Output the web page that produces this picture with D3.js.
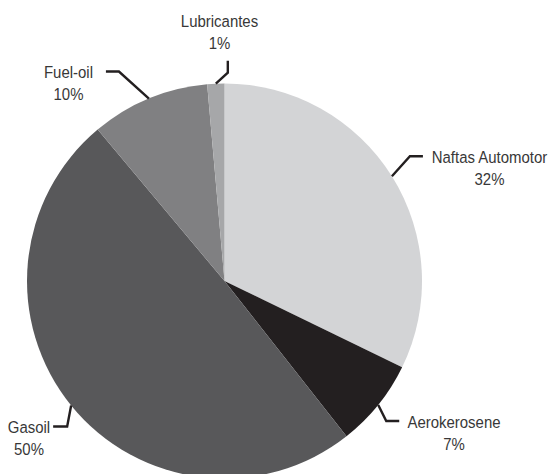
<!DOCTYPE html>
<html>
<head>
<meta charset="utf-8">
<script src="https://cdn.jsdelivr.net/npm/d3@7"></script>
<style>
  html, body { margin: 0; padding: 0; background: #fff; }
  svg { display: block; }
  text { font-family: "Liberation Sans", Arial, sans-serif; font-size: 17px; fill: #383838; }
</style>
</head>
<body>
<svg id="chart" width="550" height="474"></svg>
<script>
// ---- data ----
const categories = ["Naftas Automotor", "Aerokerosene", "Gasoil", "Fuel-oil", "Lubricantes"];
const values = [32.2, 7.2, 49.5, 9.7, 1.4];
const pctLabels = ["32%", "7%", "50%", "10%", "1%"];
const colors = ["#d3d4d6", "#231f20", "#58585a", "#808082", "#a6a7a9"];

// ---- layout ----
const cx = 224.5, cy = 281, R = 197.5;
const textScaleX = 0.88;
// leader geometry relative to slice edge point: elbow offset, then end offset from elbow; text centre & baseline
const leaderLayout = [
  { elbow: [18, -20], end: [13, 0], text: [489.5, 163] },
  { elbow: [8, 16], end: [13, 0], text: [454, 428] },
  { elbow: [-4, 21], end: [-14, 0], text: [29, 433] },
  { elbow: [-30, -27], end: [-13, 0], text: [68.5, 78] },
  { elbow: [12, -11], end: [0, -12], text: [219.5, 27] }
];

const svg = d3.select("#chart");
const g = svg.append("g").attr("transform", `translate(${cx},${cy})`);

const pie = d3.pie().sort(null).value(d => d.value).startAngle(0).endAngle(2 * Math.PI);
const data = categories.map((c, i) => ({ name: c, value: values[i], pct: pctLabels[i], color: colors[i], lay: leaderLayout[i] }));
const arcs = pie(data);

const arc = d3.arc().innerRadius(0).outerRadius(R);
const edgeArc = d3.arc().innerRadius(R).outerRadius(R);

g.selectAll("path.slice")
  .data(arcs)
  .join("path")
  .attr("class", "slice")
  .attr("d", arc)
  .attr("fill", d => d.data.color);

// leaders
g.selectAll("path.leader")
  .data(arcs)
  .join("path")
  .attr("class", "leader")
  .attr("fill", "none")
  .attr("stroke", "#231f20")
  .attr("stroke-width", 2.4)
  .attr("d", d => {
    const p = edgeArc.centroid(d);
    const e = [p[0] + d.data.lay.elbow[0], p[1] + d.data.lay.elbow[1]];
    const t = [e[0] + d.data.lay.end[0], e[1] + d.data.lay.end[1]];
    return d3.line()([p, e, t]);
  });

// labels
const lab = svg.selectAll("text.lbl")
  .data(arcs)
  .join("text")
  .attr("class", "lbl")
  .attr("text-anchor", "middle")
  .attr("transform", d => `translate(${d.data.lay.text[0]},${d.data.lay.text[1]}) scale(${textScaleX},1)`);
lab.append("tspan").attr("x", 0).attr("y", 0).text(d => d.data.name);
lab.append("tspan")
  .attr("x", 0)
  .attr("dy", 22.5)
  .text(d => d.data.pct);
</script>
</body>
</html>
